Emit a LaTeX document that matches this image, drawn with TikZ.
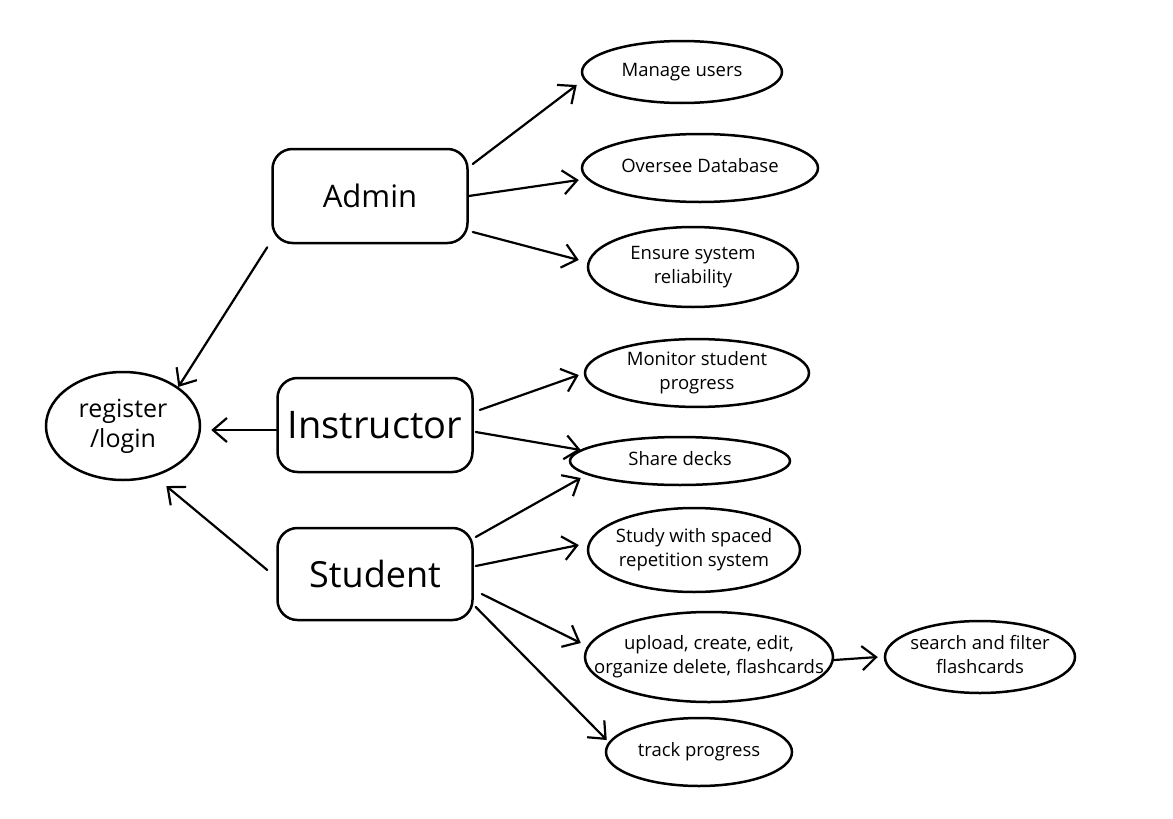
\documentclass[tikz,border=0pt]{standalone}
\usepackage{fontspec}
\setmainfont{Open Sans}
\usetikzlibrary{arrows.meta,shapes.geometric}
\newcommand{\ctext}[1]{\makebox[0pt]{\begin{tabular}{@{}c@{}}#1\end{tabular}}}
\begin{document}
\begin{tikzpicture}[x=1pt,y=-1pt,
  role/.style={draw, line width=2.5pt, rounded corners=20pt, minimum width=195pt, minimum height=94pt, inner sep=0pt, font=\fontsize{36}{40}\selectfont},
  usecase/.style={draw, ellipse, line width=2.5pt, inner sep=0pt, font=\fontsize{18.5}{24}\selectfont},
  arr/.style={line width=2.2pt, line cap=round, -{Straight Barb[length=14pt,width=24pt,line width=2.2pt]}}]
\useasboundingbox (0,0) rectangle (1173,819);
% roles
\node[role, font=\fontsize{31}{36}\selectfont] (admin) at (370,196) {Admin};
\node[role, font=\fontsize{38}{42}\selectfont] (instr) at (375,425) {Instructor};
\node[role, minimum height=92pt] (student) at (375,574) {Student};
% register/login
\node[usecase, minimum width=154pt, minimum height=108pt, font=\fontsize{25}{30}\selectfont] (reg) at (123,426) {\ctext{register\\/login}};
% use cases
\node[usecase, minimum width=200pt, minimum height=62pt] (mu) at (682,72) {\ctext{Manage users}};
\node[usecase, minimum width=236pt, minimum height=68pt] (od) at (700,168) {\ctext{Oversee Database}};
\node[usecase, minimum width=210pt, minimum height=80pt] (esr) at (693,267) {\ctext{Ensure system\\reliability}};
\node[usecase, minimum width=224pt, minimum height=62pt] (mon) at (697,373) {\ctext{Monitor student\\progress}};
\node[usecase, minimum width=220pt, minimum height=48pt] (share) at (680,461) {\ctext{Share decks}};
\node[usecase, minimum width=212pt, minimum height=84pt] (study) at (694,550) {\ctext{Study with spaced\\repetition system}};
\node[usecase, minimum width=248pt, minimum height=90pt] (upload) at (709,657) {\ctext{upload, create, edit,\\organize delete, flashcards}};
\node[usecase, minimum width=190pt, minimum height=72pt] (search) at (980,657) {\ctext{search and filter\\flashcards}};
\node[usecase, minimum width=186pt, minimum height=68pt] (track) at (699,752) {\ctext{track progress}};
% connectors
\draw[arr] ([shift={(4pt,32pt)}]admin.east) -- ([shift={(-4pt,-13pt)}]mu.west);
\draw[arr] ([shift={(0pt,0pt)}]admin.east) -- ([shift={(-2pt,-12pt)}]od.west);
\draw[arr] ([shift={(4pt,-36pt)}]admin.east) -- ([shift={(-8pt,7pt)}]esr.west);
\draw[arr] ([shift={(-4pt,-3pt)}]admin.south west) -- (reg.north east);
\draw[arr] ([shift={(0pt,-5pt)}]instr.west) -- ([shift={(10pt,-4pt)}]reg.east);
\draw[arr] ([shift={(-9pt,4pt)}]student.west) -- ([shift={(-12pt,-21pt)}]reg.south east);
\draw[arr] ([shift={(6pt,15pt)}]instr.east) -- ([shift={(-5pt,-2pt)}]mon.west);
\draw[arr] ([shift={(2pt,-7pt)}]instr.east) -- ([shift={(12pt,11pt)}]share.west);
\draw[arr] ([shift={(2pt,37pt)}]student.east) -- ([shift={(12pt,-17pt)}]share.west);
\draw[arr] ([shift={(2pt,8pt)}]student.east) -- ([shift={(-8pt,5pt)}]study.west);
\draw[arr] ([shift={(8pt,-20pt)}]student.east) -- ([shift={(-3pt,14pt)}]upload.west);
\draw[arr] ([shift={(2pt,-33pt)}]student.east) -- ([shift={(2pt,12pt)}]track.west);
\draw[arr] ([shift={(0pt,-3pt)}]upload.east) -- ([shift={(-6pt,0pt)}]search.west);
\end{tikzpicture}
\end{document}
